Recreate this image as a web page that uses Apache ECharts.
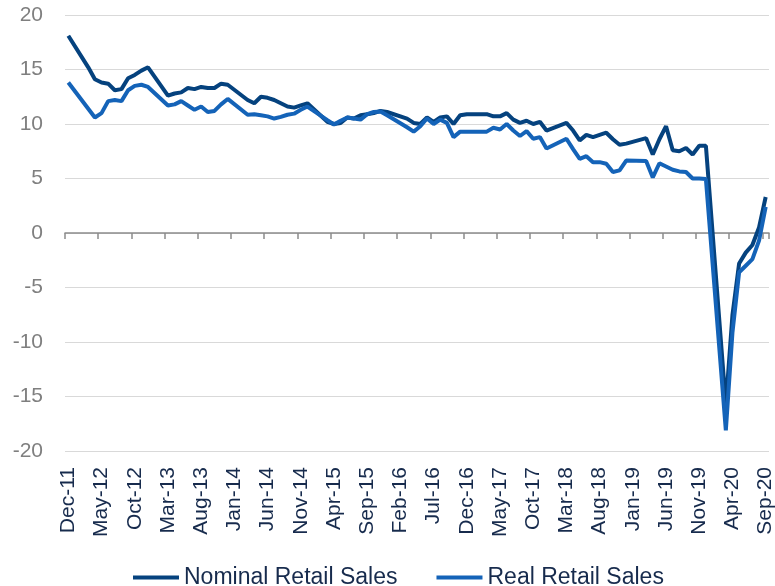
<!DOCTYPE html>
<html>
<head>
<meta charset="utf-8">
<title>Retail sales</title>
<script src="https://cdn.jsdelivr.net/npm/echarts@6/dist/echarts.min.js"></script>
<style>
  html, body { margin: 0; padding: 0; background: #fff; }
  #main { width: 775px; height: 586px; }
</style>
</head>
<body>
<div id="main"></div>
<script>
// month labels, Dec-11 .. Sep-20
const monthNames = ['Jan', 'Feb', 'Mar', 'Apr', 'May', 'Jun', 'Jul', 'Aug', 'Sep', 'Oct', 'Nov', 'Dec'];
const months = [];
for (let i = 0; i < 106; i++) {
  const m = (11 + i) % 12;
  const y = 2011 + Math.floor((11 + i) / 12);
  months.push(monthNames[m] + '-' + String(y).slice(2));
}

// yoy %, Jan/Feb have no separate print (null, line is joined across)
const nominal = [
  18.1,
  null, null, 15.2, 14.1, 13.8, 13.7, 13.1, 13.2, 14.2, 14.5, 14.9, 15.2,
  null, null, 12.6, 12.8, 12.9, 13.3, 13.2, 13.4, 13.3, 13.3, 13.7, 13.6,
  null, null, 12.2, 11.9, 12.5, 12.4, 12.2, 11.9, 11.6, 11.5, 11.7, 11.9,
  null, null, 10.2, 10.0, 10.1, 10.6, 10.5, 10.8, 10.9, 11.0, 11.2, 11.1,
  null, null, 10.5, 10.1, 10.0, 10.6, 10.2, 10.6, 10.7, 10.0, 10.8, 10.9,
  null, null, 10.9, 10.7, 10.7, 11.0, 10.4, 10.1, 10.3, 10.0, 10.2, 9.4,
  null, null, 10.1, 9.4, 8.5, 9.0, 8.8, 9.0, 9.2, 8.6, 8.1, 8.2,
  null, null, 8.7, 7.2, 8.6, 9.8, 7.6, 7.5, 7.8, 7.2, 8.0, 8.0,
  null, null, -15.8, -7.5, -2.8, -1.8, -1.1, 0.5, 3.3
];

const real = [
  13.8,
  null, null, 11.4, 10.6, 11.0, 12.1, 12.2, 12.1, 13.1, 13.5, 13.6, 13.4,
  null, null, 11.7, 11.8, 12.1, 11.7, 11.3, 11.6, 11.1, 11.2, 11.8, 12.3,
  null, null, 10.85, 10.9, 10.8, 10.7, 10.5, 10.65, 10.85, 10.95, 11.3, 11.6,
  null, null, 10.35, 9.95, 10.3, 10.6, 10.5, 10.4, 10.9, 11.1, 11.15, 10.8,
  null, null, 9.7, 9.3, 9.8, 10.5, 10.0, 10.4, 10.1, 8.8, 9.3, 9.3,
  null, null, 9.3, 9.65, 9.5, 10.0, 9.4, 8.9, 9.35, 8.65, 8.8, 7.75,
  null, null, 8.65, 7.7, 6.8, 7.05, 6.5, 6.5, 6.35, 5.6, 5.75, 6.65,
  null, null, 6.6, 5.1, 6.4, 6.1, 5.8, 5.65, 5.6, 5.0, 5.0, 4.95,
  null, null, -18.1, -9.1, -3.6, -3.0, -2.4, -0.7, 2.4
];

const seriesNames = ['Nominal Retail Sales', 'Real Retail Sales'];
const seriesColors = ['#05427e', '#1463b8'];

const font = 'Liberation Sans, Arial, sans-serif';
const navy = '#172b4d';

const myChart = echarts.init(document.getElementById('main'));

const option = {
  animation: false,
  backgroundColor: '#fff',
  grid: { left: 65, right: 6, top: 15, bottom: 135, outerBoundsMode: 'none' },
  legend: {
    data: seriesNames,
    left: 133,
    top: 566,
    padding: 0,
    icon: 'rect',
    itemWidth: 46,
    itemHeight: 4,
    itemGap: 39,
    textStyle: { fontSize: 23, color: navy, fontFamily: font }
  },
  xAxis: [
    {
      type: 'category',
      data: months,
      boundaryGap: true,
      axisLine: { show: false, onZero: false },
      axisTick: { show: false },
      splitLine: { show: false },
      axisLabel: { interval: 4, rotate: 90, fontSize: 21, color: navy, margin: 16, fontFamily: font }
    },
    {
      type: 'category',
      data: months,
      position: 'bottom',
      boundaryGap: true,
      axisLine: { show: true, onZero: true, lineStyle: { color: '#8c8c8c', width: 1.5 } },
      axisTick: { show: true, interval: 4, length: 6, lineStyle: { color: '#8c8c8c', width: 1.5 } },
      axisLabel: { show: false },
      splitLine: { show: false }
    }
  ],
  yAxis: {
    type: 'value',
    min: -20,
    max: 20,
    interval: 5,
    axisLine: { show: false },
    axisTick: { show: false },
    axisLabel: { fontSize: 21, color: '#7f7f7f', margin: 22, fontFamily: font },
    splitLine: { lineStyle: { color: '#d9d9d9', width: 1 } }
  },
  series: seriesNames.map((name, k) => ({
    name: name,
    type: 'line',
    xAxisIndex: 0,
    data: k === 0 ? nominal : real,
    connectNulls: true,
    showSymbol: false,
    symbol: 'none',
    z: 2 + k,
    lineStyle: { width: 4, color: seriesColors[k] },
    itemStyle: { color: seriesColors[k] },
    emphasis: { disabled: true }
  }))
};

myChart.setOption(option);
</script>
</body>
</html>
